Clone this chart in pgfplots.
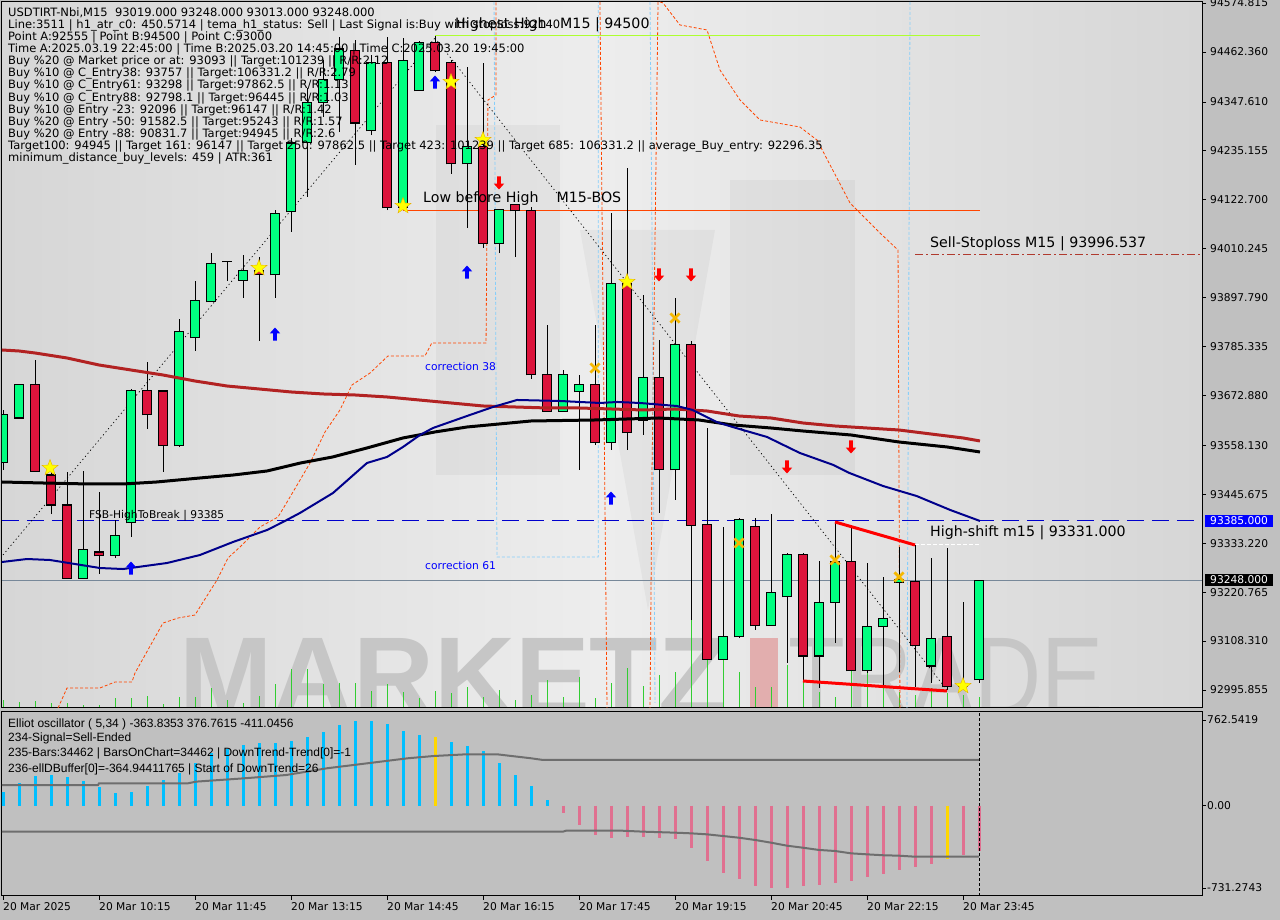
\documentclass[border=0pt]{standalone}
\usepackage{pgfplots}
\pgfplotsset{compat=1.18}
\usepackage{pgfplotstable}
\usepackage{graphicx}
\usepackage{fontspec}
\setmainfont{DejaVu Sans}
\newfontfamily\arialf{Liberation Sans}

\definecolor{bgGrey}{HTML}{C0C0C0}
\definecolor{panE}{HTML}{D6D6D6}
\definecolor{panM}{HTML}{EDEDED}
\definecolor{candG}{HTML}{00FF80}
\definecolor{candR}{HTML}{DC143C}
\definecolor{maRed}{HTML}{B22222}
\definecolor{maBlue}{HTML}{00008B}
\definecolor{volG}{HTML}{32CD32}
\definecolor{orng}{HTML}{FF4500}
\definecolor{lblue}{HTML}{87CEFA}
\definecolor{fsbBlue}{HTML}{0000CD}
\definecolor{curLine}{HTML}{778899}
\definecolor{hhGreen}{HTML}{ADFF2F}
\definecolor{slRed}{HTML}{B03A2E}
\definecolor{starY}{HTML}{FFFF00}
\definecolor{starO}{HTML}{E8B000}
\definecolor{crossY}{HTML}{F5B800}
\definecolor{arrB}{HTML}{0000FF}
\definecolor{arrR}{HTML}{FF0000}
\definecolor{oscBlue}{HTML}{00BFFF}
\definecolor{oscPink}{HTML}{E07090}
\definecolor{oscYel}{HTML}{FFD700}
\definecolor{oscGrey}{HTML}{6E6E6E}
\definecolor{wmG}{HTML}{C6C6C6}
\definecolor{wmP}{HTML}{E2AEAE}

\newcommand\fInfo{\fontsize{11.5bp}{12bp}\selectfont}
\newcommand\fTick{\fontsize{10.7bp}{12bp}\selectfont}
\newcommand\fBig{\fontsize{14.2bp}{16bp}\selectfont}
\newcommand\fOsc{\arialf\fontsize{12bp}{14bp}\selectfont}

\pgfdeclareplotmark{fstar}{%
 \pgfpathmoveto{\pgfpointpolar{90}{\pgfplotmarksize}}%
 \pgfpathlineto{\pgfpointpolar{126}{0.42\pgfplotmarksize}}%
 \pgfpathlineto{\pgfpointpolar{162}{\pgfplotmarksize}}%
 \pgfpathlineto{\pgfpointpolar{198}{0.42\pgfplotmarksize}}%
 \pgfpathlineto{\pgfpointpolar{234}{\pgfplotmarksize}}%
 \pgfpathlineto{\pgfpointpolar{270}{0.42\pgfplotmarksize}}%
 \pgfpathlineto{\pgfpointpolar{306}{\pgfplotmarksize}}%
 \pgfpathlineto{\pgfpointpolar{342}{0.42\pgfplotmarksize}}%
 \pgfpathlineto{\pgfpointpolar{18}{\pgfplotmarksize}}%
 \pgfpathlineto{\pgfpointpolar{54}{0.42\pgfplotmarksize}}%
 \pgfpathclose\pgfusepathqfillstroke}
\pgfdeclareplotmark{uarr}{%
 \pgfpathmoveto{\pgfpoint{0pt}{\pgfplotmarksize}}%
 \pgfpathlineto{\pgfpoint{0.8\pgfplotmarksize}{0.1\pgfplotmarksize}}%
 \pgfpathlineto{\pgfpoint{0.3\pgfplotmarksize}{0.1\pgfplotmarksize}}%
 \pgfpathlineto{\pgfpoint{0.3\pgfplotmarksize}{-\pgfplotmarksize}}%
 \pgfpathlineto{\pgfpoint{-0.3\pgfplotmarksize}{-\pgfplotmarksize}}%
 \pgfpathlineto{\pgfpoint{-0.3\pgfplotmarksize}{0.1\pgfplotmarksize}}%
 \pgfpathlineto{\pgfpoint{-0.8\pgfplotmarksize}{0.1\pgfplotmarksize}}%
 \pgfpathclose\pgfusepathqfill}
\pgfdeclareplotmark{darr}{%
 \pgfpathmoveto{\pgfpoint{0pt}{-\pgfplotmarksize}}%
 \pgfpathlineto{\pgfpoint{0.8\pgfplotmarksize}{-0.1\pgfplotmarksize}}%
 \pgfpathlineto{\pgfpoint{0.3\pgfplotmarksize}{-0.1\pgfplotmarksize}}%
 \pgfpathlineto{\pgfpoint{0.3\pgfplotmarksize}{\pgfplotmarksize}}%
 \pgfpathlineto{\pgfpoint{-0.3\pgfplotmarksize}{\pgfplotmarksize}}%
 \pgfpathlineto{\pgfpoint{-0.3\pgfplotmarksize}{-0.1\pgfplotmarksize}}%
 \pgfpathlineto{\pgfpoint{-0.8\pgfplotmarksize}{-0.1\pgfplotmarksize}}%
 \pgfpathclose\pgfusepathqfill}

\pgfplotsset{candle/.style={draw=none, no markers, forget plot,
  error bars/.cd, y dir=plus, y explicit, error mark=none}}

% bullish candles
\pgfplotstableread{
i open high low close
0 93518 93639 93502 93630
1 93621 93699 93621 93699
5 93253 93499 93253 93318
7 93306 93387 93299 93350
8 93380 93688 93348 93685
11 93557 93849 93554 93819
12 93805 93936 93775 93892
13 93888 94000 93888 93975
15 93938 93996 93897 93961
17 93950 94099 93897 94090
18 94095 94265 94049 94253
19 94255 94380 94129 94347
20 94347 94444 94313 94398
21 94400 94497 94278 94469
23 94281 94455 94271 94437
25 94104 94494 94104 94442
26 94373 94488 94373 94483
29 94205 94428 94058 94246
31 94023 94101 94000 94101
35 93637 93731 93635 93720
36 93681 93720 93502 93699
38 93564 94092 93548 93929
40 93616 93904 93582 93713
42 93502 93897 93433 93789
45 93067 93371 93067 93118
46 93118 93391 93115 93387
48 93143 93400 93143 93221
49 93210 93311 93058 93308
51 93074 93292 93001 93198
52 93198 93382 93104 93290
54 93040 93288 93035 93141
55 93141 93256 93003 93161
56 93244 93325 93037 93249
58 93051 93299 93012 93115
60 93005 93198 92996 93008
61 93019 93248 93013 93248
}\bull
% bearish candles
\pgfplotstableread{
i open high low close
2 93699 93754 93499 93499
3 93490 93502 93400 93421
4 93421 93497 93253 93253
6 93313 93451 93263 93304
9 93685 93750 93596 93628
10 93683 93683 93497 93557
14 93980 93981 93936 93980
16 93961 93991 93798 93950
22 94465 94490 94203 94299
24 94437 94497 94099 94104
27 94483 94500 94416 94419
28 94437 94444 94182 94205
30 94246 94437 94012 94023
32 94111 94111 93991 94097
33 94097 94106 93711 93720
34 93720 93835 93635 93637
37 93699 93835 93559 93564
39 93929 94196 93548 93587
41 93713 93800 93403 93502
43 93789 93798 93157 93375
44 93377 93598 93067 93067
47 93371 93391 93134 93143
50 93308 93311 93019 93074
53 93292 93375 93040 93040
57 93246 93329 93003 93099
59 93118 93322 92996 93003
}\bear
% tick volume (pixel-height units)
\pgfplotstableread{
i v
0 8
1 6
2 7
3 5
4 5
5 3
6 3
7 10
8 10
9 12
10 4
11 11
12 11
13 20
14 8
15 5
16 12
17 24
18 39
19 39
20 24
21 25
22 25
23 17
24 24
25 16
26 10
27 17
28 15
29 21
30 11
31 18
32 8
33 13
34 28
35 11
36 31
37 10
38 25
39 40
40 22
41 33
42 36
43 88
44 72
45 51
46 36
47 21
48 21
49 43
50 28
51 16
52 11
53 45
54 35
55 38
56 16
57 13
58 20
59 15
60 13
61 11
}\vol

\begin{document}
\begin{tikzpicture}[x=1bp,y=1bp]
\useasboundingbox (0,0) rectangle (1280,920);
\fill[bgGrey] (0,0) rectangle (1280,920);
\shade[left color=panE, right color=panE, middle color=panM] (2,212) rectangle (1202,918);
% faint logo shapes
\fill[black, opacity=0.035] (436,795) rectangle (560,445);
\fill[black, opacity=0.035] (730,740) rectangle (855,445);
\fill[black, opacity=0.035] (580,690) -- (715,690) -- (648,310) -- cycle;
% watermark
\begin{scope}
\clip (2,212) rectangle (1202,918);
\node[anchor=north west, inner sep=0pt, text=wmG, font=\arialf\bfseries\fontsize{112bp}{112bp}\selectfont] at (179,282) {MARKETZ};
\fill[wmP] (750,212) rectangle (778,282);
\node[anchor=north west, inner sep=0pt, text=wmG, font=\arialf\fontsize{112bp}{112bp}\selectfont] at (788,282) {\scalebox{0.83}[1]{TRADE}};
\end{scope}

% volume overlay
\begin{axis}[at={(2bp,212bp)}, anchor=south west, scale only axis, width=1200bp, height=706bp,
  xmin=-0.0625, xmax=74.9375, ymin=0, ymax=706, hide axis]
\addplot[ycomb, draw=volG, line width=1bp, mark=none] table[x=i,y=v]{\vol};
\end{axis}

% main price axis
\begin{axis}[at={(2bp,212bp)}, anchor=south west, scale only axis, width=1200bp, height=706bp,
  xmin=-0.0625, xmax=74.9375, ymin=92954.49, ymax=94577.11,
  axis line style={black, line width=1bp},
  xtick=\empty,
  ytick={94574.815,94462.36,94347.61,94235.155,94122.7,94010.245,93897.79,93785.335,93672.88,93558.13,93445.675,93333.22,93220.765,93108.31,92995.855},
  yticklabels={94574.815,94462.360,94347.610,94235.155,94122.700,94010.245,93897.790,93785.335,93672.880,93558.130,93445.675,93333.220,93220.765,93108.310,92995.855},
  ytick pos=right, yticklabel pos=right, tick align=outside, major tick length=4bp,
  every tick/.style={black, line width=0.6bp},
  yticklabel style={font=\fTick, inner sep=0pt, anchor=west, xshift=4bp},
]
% envelopes / verticals
\addplot[orng, line width=0.8bp, dash pattern=on 3bp off 2bp] coordinates {(3.44,92954.5) (4,93000.5) (6.06,93000.5) (7,93014.2) (8.06,93014.2) (8.25,93034.9) (10,93149.8) (10.94,93161.3) (12,93168.2) (12.31,93186.6) (13.375,93248.7) (14.06,93299.2) (14.81,93324.5) (16.06,93370.5) (17.19,93393.5) (17.94,93439.4) (19.19,93517.6) (20.125,93588.8) (21.06,93639.4) (21.81,93696.9) (22.94,93724.4) (24.06,93763.5) (26.375,93763.5) (26.8,93793.4) (30.19,93793.4) (30.31,94351.9) (30.81,94363.4) (30.81,94577.1)};
\addplot[orng, line width=0.8bp, dash pattern=on 3bp off 2bp] coordinates {(37.31,94577.1) (37.75,92954.5)};
\addplot[orng, line width=0.8bp, dash pattern=on 3bp off 2bp] coordinates {(40.94,94577.1) (40.56,93485.4) (40.44,92954.5)};
\addplot[orng, line width=0.8bp, dash pattern=on 3bp off 2bp] coordinates {(41.06,94577.1) (41.25,94574.8) (42.31,94524.3) (44,94512.8) (44.81,94420.8) (46.06,94351.9) (47.31,94305.9) (49.81,94289.8) (50.875,94259.9) (52.94,94115.1) (54.81,94046.2) (55.94,94006.9) (56.06,92954.5)};
\addplot[lblue, line width=0.8bp, dash pattern=on 3bp off 2bp] coordinates {(30.69,94577.1) (30.875,93301.5) (37.2,93301.5) (37.2,94577.1)};
\addplot[lblue, line width=0.8bp, dash pattern=on 3bp off 2bp] coordinates {(40.44,94577.1) (40.56,94054.6) (40.75,92966)};
\addplot[lblue, line width=0.8bp, dash pattern=on 3bp off 2bp] coordinates {(56.69,94577.1) (56.5,92954.5)};
% horizontal levels
\addplot[hhGreen, line width=1.2bp] coordinates {(27,94500) (61.06,94500)};
\addplot[orng, line width=1bp] coordinates {(25,94099) (61.06,94099)};
\addplot[slRed, line width=0.8bp, dash pattern=on 8bp off 3bp on 2bp off 3bp] coordinates {(57,93996.5) (74.94,93996.5)};
\addplot[fsbBlue, line width=1bp, dash pattern=on 17bp off 8bp] coordinates {(-0.07,93385) (74.94,93385)};
\addplot[white, line width=1bp, dash pattern=on 4bp off 2bp] coordinates {(57,93331) (61,93331)};
\addplot[curLine, line width=1bp] coordinates {(-0.07,93248) (74.94,93248)};
% dotted swing lines
\addplot[black, line width=0.7bp, dash pattern=on 1.2bp off 2.8bp] coordinates {(0,93306.1) (27,94494.4)};
\addplot[black, line width=0.7bp, dash pattern=on 1.2bp off 2.8bp] coordinates {(27,94494.4) (59,92995.9)};
% wicks
\addplot[candle, error bar style={draw=black, line width=1bp}] table[x=i, y=low, y error expr=\thisrow{high}-\thisrow{low}] {\bull};
\addplot[candle, error bar style={draw=black, line width=1bp}] table[x=i, y=low, y error expr=\thisrow{high}-\thisrow{low}] {\bear};
% bodies
\addplot[candle, error bar style={draw=black, line width=10.5bp}] table[x=i, y expr=\thisrow{open}-1.2, y error expr=\thisrow{close}-\thisrow{open}+2.4] {\bull};
\addplot[candle, error bar style={draw=candG, line width=8.5bp}] table[x=i, y expr=\thisrow{open}+1.2, y error expr={max(\thisrow{close}-\thisrow{open}-2.4,0)}] {\bull};
\addplot[candle, error bar style={draw=black, line width=10.5bp}] table[x=i, y expr=\thisrow{close}-1.2, y error expr=\thisrow{open}-\thisrow{close}+2.4] {\bear};
\addplot[candle, error bar style={draw=candR, line width=8.5bp}] table[x=i, y expr=\thisrow{close}+1.2, y error expr={max(\thisrow{open}-\thisrow{close}-2.4,0)}] {\bear};
% moving averages
\addplot[maRed, line width=3bp] coordinates {(-0.07,93777.3) (1,93775.0) (2,93770.4) (4,93758.9) (6,93742.8) (8,93731.3) (10,93719.8) (12,93706.0) (14,93694.5) (16,93687.7) (18,93680.8) (20,93676.2) (22,93673.9) (24,93669.3) (26,93662.4) (28,93655.5) (30,93648.6) (32,93646.3) (34,93644.0) (36,93644.0) (38,93641.7) (40,93639.4) (42,93641.7) (44,93637.1) (46,93625.6) (48,93621.0) (50,93609.5) (52,93602.6) (54,93598.0) (56,93593.4) (58,93584.2) (60,93575.1) (61.06,93568.2)};
\addplot[black, line width=3bp] coordinates {(-0.07,93473.9) (2.5,93471.6) (5.4,93469.3) (7.5,93469.3) (9.6,93473.9) (12.3,93483.1) (14.4,93490.0) (16.5,93499.2) (18.6,93517.6) (20.6,93531.4) (22.75,93552.1) (25,93575.1) (27,93588.9) (29,93600.3) (31,93607.2) (33,93614.1) (37,93616.4) (41,93621.0) (43.5,93616.4) (45.6,93605.0) (48,93598.0) (50,93591.1) (53,93581.9) (56,93565.8) (59,93554.4) (61.06,93542.9)};
\addplot[maBlue, line width=2bp] coordinates {(-0.07,93290.0) (1.5,93296.9) (2.94,93294.6) (6.06,93276.2) (7.5,93273.9) (10.25,93287.7) (12.31,93306.1) (14.375,93336.0) (16.5,93363.5) (17.5,93382.0) (18.56,93402.7) (20.625,93448.6) (22.75,93517.6) (24,93531.4) (25,93554.4) (26.06,93581.9) (26.875,93598.0) (29,93625.6) (30.625,93646.3) (32.125,93662.4) (34.8,93660.1) (37.3,93655.5) (38.4,93657.8) (39.8,93655.5) (42.1,93648.6) (43.1,93639.4) (44.6,93611.8) (45.6,93600.3) (47.75,93577.4) (49.8,93540.6) (51.9,93513.0) (52.9,93494.6) (55,93464.7) (57.1,93441.7) (59.2,93409.6) (61.06,93384.3)};
% red trend lines
\addplot[red, line width=3bp] coordinates {(52,93382.0) (57,93329.1)};
\addplot[red, line width=3bp] coordinates {(50,93016.5) (59,92993.6)};
% signal markers
\addplot[only marks, mark=fstar, mark size=8.5bp, mark options={fill=starY, draw=starO, line width=0.4bp}] coordinates {(2.94,93506.1) (16,93965.7) (25,94108.3) (28,94393.2) (30,94259.9) (39,93933.6) (60,93005.1)};
\addplot[only marks, mark=x, mark size=6.5bp, mark options={draw=crossY, line width=2.8bp}] coordinates {(37,93735.9) (42,93850.8) (46,93333.7) (52,93294.6) (56,93255.6)};
\addplot[only marks, mark=uarr, mark size=6.5bp, mark options={fill=arrB, draw=arrB}] coordinates {(8,93276.2) (17,93814.0) (27,94393.2) (29,93956.5) (38,93437.1)};
\addplot[only marks, mark=darr, mark size=6.5bp, mark options={fill=arrR, draw=arrR}] coordinates {(31,94161.1) (41,93949.7) (43,93949.7) (49,93508.4) (53,93554.4)};
\end{axis}

% oscillator
\begin{axis}[at={(2bp,24bp)}, anchor=south west, scale only axis, width=1200bp, height=184bp,
  xmin=-0.0625, xmax=74.9375, ymin=-803.7, ymax=833.9,
  axis line style={black, line width=1bp},
  xtick={0,6,...,60},
  xticklabels={20 Mar 2025,20 Mar 10:15,20 Mar 11:45,20 Mar 13:15,20 Mar 14:45,20 Mar 16:15,20 Mar 17:45,20 Mar 19:15,20 Mar 20:45,20 Mar 22:15,20 Mar 23:45},
  xtick pos=bottom,
  ytick={-731.2743,0,762.5419}, yticklabels={-731.2743,0.00,762.5419},
  ytick pos=right, yticklabel pos=right, tick align=outside, major tick length=4bp,
  every tick/.style={black, line width=0.6bp},
  xticklabel style={font=\fTick, anchor=north west, inner sep=0pt, yshift=-2bp},
  yticklabel style={font=\fTick, inner sep=0pt, anchor=west, xshift=1bp},
]
\addplot[ycomb, draw=oscBlue, line width=3bp, mark=none] coordinates {(0,125) (1,199) (2,264) (3,273) (4,252) (5,223) (6,169) (7,116) (8,125) (9,175) (10,229) (11,294) (12,383) (13,466) (14,502) (15,540) (16,561) (17,561) (18,579) (19,609) (20,659) (21,718) (22,754) (23,754) (24,727) (25,668) (26,632) (28,570) (29,534) (30,490) (31,383) (32,273) (33,175) (34,51)};
\addplot[ycomb, draw=oscPink, line width=3bp, mark=none] coordinates {(35,-68) (36,-172) (37,-261) (38,-285) (39,-276) (40,-276) (41,-285) (42,-294) (43,-374) (44,-490) (45,-596) (46,-652) (47,-712) (48,-730) (49,-730) (50,-712) (51,-703) (52,-685) (53,-667) (54,-632) (55,-605) (56,-570) (57,-543) (58,-516) (60,-436) (61,-401)};
\addplot[ycomb, draw=oscYel, line width=3bp, mark=none] coordinates {(27,614) (59,-472)};
\addplot[oscGrey, line width=2bp] coordinates {(-0.07,184) (5.94,184) (6,199) (11.56,199) (12.06,214) (15.1,244) (17.7,273) (20.25,333) (22.75,377) (25.3,422) (26.9,442) (28.9,457) (30.9,457) (33,422) (33.75,407) (61,407)};
\addplot[oscGrey, line width=2bp] coordinates {(-0.07,-231) (35,-231) (35.2,-222) (38.6,-222) (40,-231) (42,-240) (43,-246) (44,-255) (45,-270) (46,-285) (47,-305) (48,-329) (49,-356) (50,-374) (51,-394) (52,-403) (53,-424) (54,-433) (55,-441) (56,-445) (57,-454) (61,-454)};
\addplot[black, line width=0.7bp, dash pattern=on 3bp off 2bp] coordinates {(61,-803.7) (61,833.9)};
\end{axis}

% chart annotations
\node[anchor=base west, inner sep=0pt, font=\fBig] at (455,891) {Highest High\ \ \ M15 | 94500};
\node[anchor=base west, inner sep=0pt, font=\fBig] at (423,717) {Low before High\ \ \ \ M15-BOS};
\node[anchor=base west, inner sep=0pt, font=\fBig] at (930,672) {Sell-Stoploss M15 | 93996.537};
\node[anchor=base west, inner sep=0pt, font=\fBig] at (930,383) {High-shift m15 | 93331.000};
\node[anchor=base west, inner sep=0pt, font=\fTick] at (89,401) {FSB-HighToBreak | 93385};
\node[anchor=base west, inner sep=0pt, font=\fTick, text=arrB] at (425,549) {correction 38};
\node[anchor=base west, inner sep=0pt, font=\fTick, text=arrB] at (425,350) {correction 61};
% price boxes
\node[anchor=west, fill=arrB, text=white, font=\fTick, inner xsep=5bp, inner ysep=0pt, minimum height=12bp] at (1205,399) {93385.000};
\node[anchor=west, fill=black, text=white, font=\fTick, inner xsep=5bp, inner ysep=0pt, minimum height=12bp] at (1205,340) {93248.000};
% info block
\begin{scope}[every node/.style={anchor=base west, inner sep=0pt, font=\fInfo}]
\node at (8,903.3) {USDTIRT-Nbi,M15\ \ 93019.000 93248.000 93013.000 93248.000};
\node at (8,891.25) {Line:3511 | h1\_atr\_c0: 450.5714 | tema\_h1\_status: Sell | Last Signal is:Buy with stoploss:92140};
\node at (8,879.2) {Point A:92555 | Point B:94500 | Point C:93000};
\node at (8,867.15) {Time A:2025.03.19 22:45:00 | Time B:2025.03.20 14:45:00 | Time C:2025.03.20 19:45:00};
\node at (8,855.1) {Buy \%20 @ Market price or at: 93093 || Target:101239 || R/R:2.12};
\node at (8,843.05) {Buy \%10 @ C\_Entry38: 93757 || Target:106331.2 || R/R:2.79};
\node at (8,831) {Buy \%10 @ C\_Entry61: 93298 || Target:97862.5 || R/R:1.13};
\node at (8,818.95) {Buy \%10 @ C\_Entry88: 92798.1 || Target:96445 || R/R:1.03};
\node at (8,806.9) {Buy \%10 @ Entry -23: 92096 || Target:96147 || R/R:1.42};
\node at (8,794.85) {Buy \%20 @ Entry -50: 91582.5 || Target:95243 || R/R:1.57};
\node at (8,782.8) {Buy \%20 @ Entry -88: 90831.7 || Target:94945 || R/R:2.6};
\node at (8,770.75) {Target100: 94945 || Target 161: 96147 || Target 250: 97862.5 || Target 423: 101239 || Target 685: 106331.2 || average\_Buy\_entry: 92296.35};
\node at (8,758.7) {minimum\_distance\_buy\_levels: 459 | ATR:361};
\end{scope}
% oscillator info
\begin{scope}[every node/.style={anchor=base west, inner sep=0pt, font=\fOsc}]
\node at (8,192.7) {Elliot oscillator ( 5,34 ) -363.8353 376.7615 -411.0456};
\node at (8,178.7) {234-Signal=Sell-Ended};
\node at (8,163.7) {235-Bars:34462 | BarsOnChart=34462 | DownTrend-Trend[0]=-1};
\node at (8,147.7) {236-ellDBuffer[0]=-364.94411765 | Start of DownTrend=26};
\end{scope}
\end{tikzpicture}
\end{document}
